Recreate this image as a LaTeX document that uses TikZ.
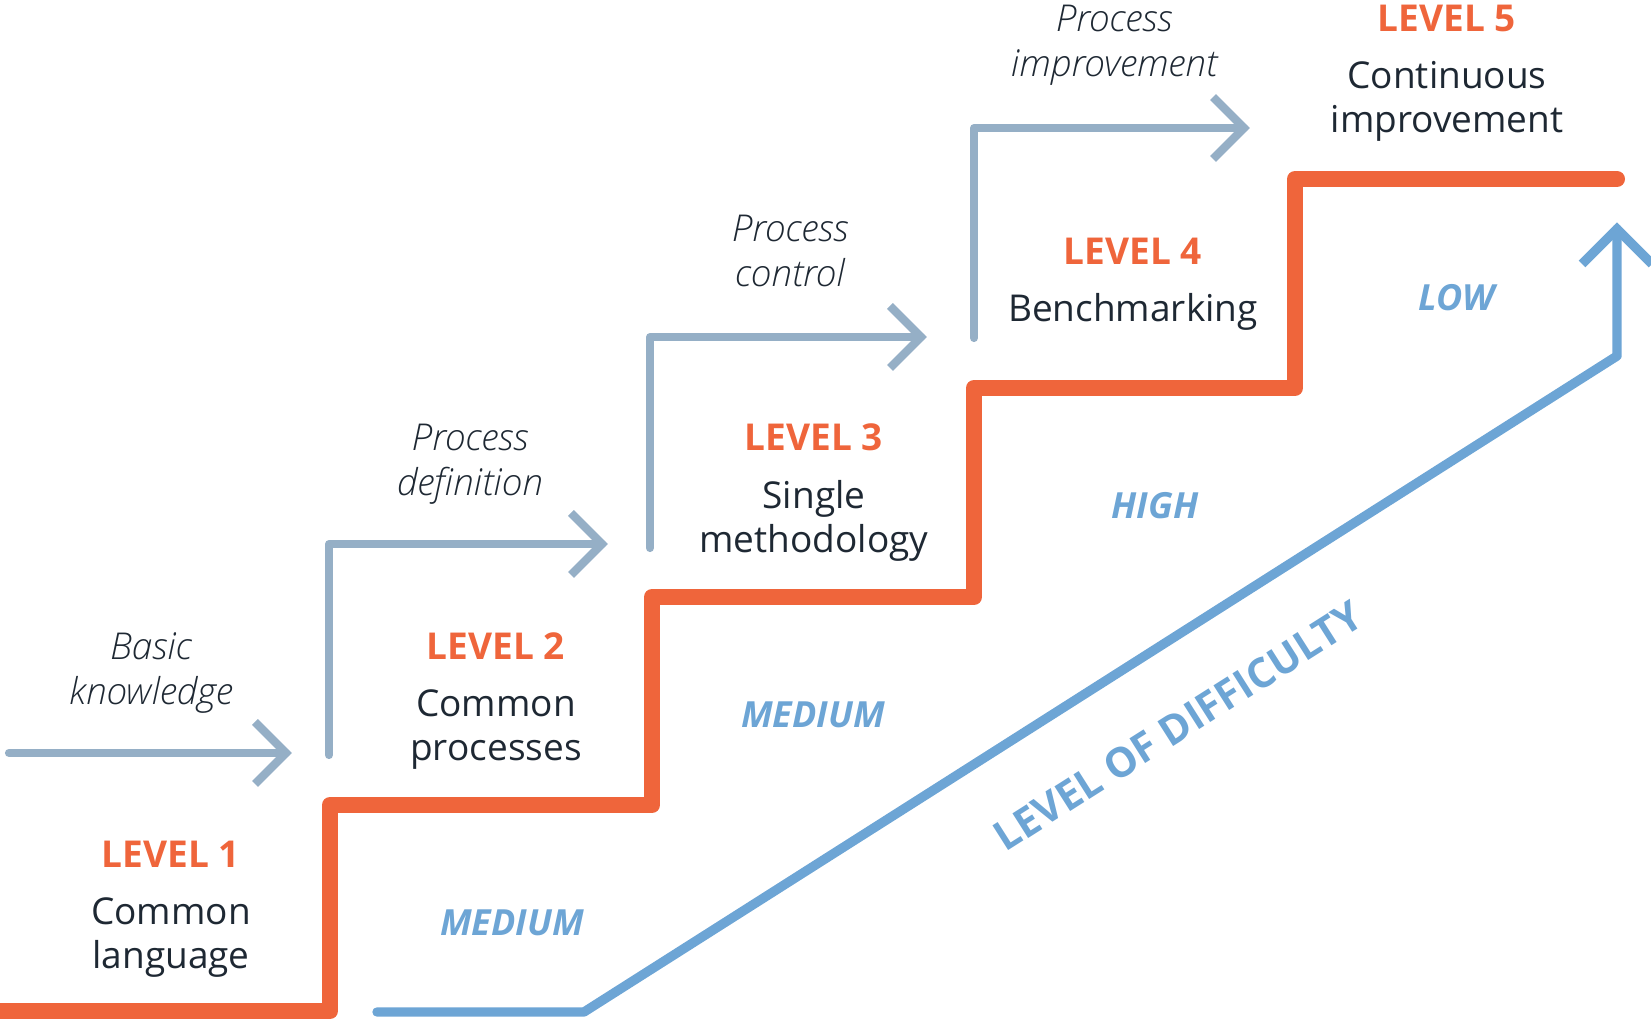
\documentclass[tikz,border=0pt]{standalone}
\usepackage{fontspec}
\setmainfont{Open Sans}
\IfFontExistsTF{Open Sans Light Italic}{\newfontfamily\lightit{Open Sans Light Italic}}{\newfontfamily\lightit{Open Sans}[UprightFont=*-Italic]}
\usetikzlibrary{calc}
\definecolor{stair}{HTML}{EF653B}
\definecolor{ink}{HTML}{1E2833}
\definecolor{flowc}{HTML}{95AFC6}
\definecolor{diffc}{HTML}{6DA5D5}
\begin{document}
\begin{tikzpicture}[x=0.5pt,y=-0.5pt,
  flow/.style={draw=flowc, line width=4.1pt, line cap=round, line join=round},
  barb/.style={draw=flowc, line width=4.1pt, line cap=butt, line join=miter},
  stairline/.style={draw=stair, line width=8pt, line cap=round, line join=round},
  diff/.style={draw=diffc, line width=4.7pt, line cap=round, line join=round},
  diffbarb/.style={draw=diffc, line width=4.7pt, line cap=butt, line join=miter},
  lvl/.style={font=\bfseries\fontsize{18.5}{22}\selectfont, text=stair, anchor=base, inner sep=0pt},
  desc/.style={font=\fontsize{18.5}{22}\selectfont, text=ink, align=center, anchor=base, inner sep=0pt},
  act/.style={font=\lightit\fontsize{18.5}{22.5}\selectfont, text=ink, align=center, anchor=base, inner sep=0pt},
  dlabel/.style={font=\bfseries\itshape\fontsize{18}{22}\selectfont, text=diffc, inner sep=0pt}]
\useasboundingbox (0,0) rectangle (1651,1020);

% staircase
\coordinate (s0) at (-20,1011);
\coordinate (s1) at (330,1011);
\coordinate (s2) at (330,805);
\coordinate (s3) at (652,805);
\coordinate (s4) at (652,597);
\coordinate (s5) at (974,597);
\coordinate (s6) at (974,388);
\coordinate (s7) at (1295,388);
\coordinate (s8) at (1295,179);
\coordinate (s9) at (1617,179);
\draw[stairline] (s0) -- (s1) -- (s2) -- (s3) -- (s4) -- (s5) -- (s6) -- (s7) -- (s8) -- (s9);

% flow arrows
\coordinate (a1s) at (9,753);
\coordinate (a1t) at (286,753);
\coordinate (a2s) at (329,755);
\coordinate (a2c) at (329,544);
\coordinate (a2t) at (602,544);
\coordinate (a3s) at (650,548);
\coordinate (a3c) at (650,337);
\coordinate (a3t) at (921,337);
\coordinate (a4s) at (974,338);
\coordinate (a4c) at (974,128);
\coordinate (a4t) at (1244,128);
\draw[flow] (a1s) -- (a1t);
\draw[flow] (a2s) -- (a2c) -- (a2t);
\draw[flow] (a3s) -- (a3c) -- (a3t);
\draw[flow] (a4s) -- (a4c) -- (a4t);
\foreach \t in {a1t,a2t,a3t,a4t}{
  \draw[barb] ([shift={(-31,-31)}]\t) -- (\t) -- ([shift={(-31,31)}]\t);
}

% difficulty arrow
\coordinate (d0) at (377,1012);
\coordinate (d1) at (584,1012);
\coordinate (d2) at (1617,356);
\coordinate (d3) at (1617,229);
\draw[diff] (d0) -- (d1) -- (d2) -- (d3);
\draw[diffbarb] ([shift={(-35,35)}]d3) -- (d3) -- ([shift={(35,35)}]d3);

% level headings
\node[lvl] (l1) at (171,868) {LEVEL 1};
\node[lvl] (l2) at (496,660) {LEVEL 2};
\node[lvl] (l3) at (814,451) {LEVEL 3};
\node[lvl] (l4) at (1133,265) {LEVEL 4};
\node[lvl] (l5) at (1447,32) {LEVEL 5};

% descriptions (base = baseline of last line)
\node[desc] (t1) at (171,969) {Common\\language};
\node[desc] (t2) at (496,761) {Common\\processes};
\node[desc] (t3) at (814,553) {Single\\methodology};
\node[desc] (t4) at (1133,322) {Benchmarking};
\node[desc] (t5) at (1447,133) {Continuous\\improvement};

% activity labels
\node[act] (p1) at (151,705) {Basic\\knowledge};
\node[act] (p2) at (470,496) {Process\\definition};
\node[act] (p3) at (790,287) {Process\\control};
\node[act] (p4) at (1114,77) {Process\\improvement};

% difficulty labels
\node[dlabel] (m1) at (512,923) {MEDIUM};
\node[dlabel] (m2) at (813,715) {MEDIUM};
\node[dlabel] (m3) at (1155,506) {HIGH};
\node[dlabel] (m4) at (1457,298) {LOW};
\node[font=\bfseries\fontsize{20.5}{24}\selectfont, text=diffc, rotate=32.4, inner sep=0pt] (lod) at (1178,726) {LEVEL OF DIFFICULTY};
\end{tikzpicture}
\end{document}
